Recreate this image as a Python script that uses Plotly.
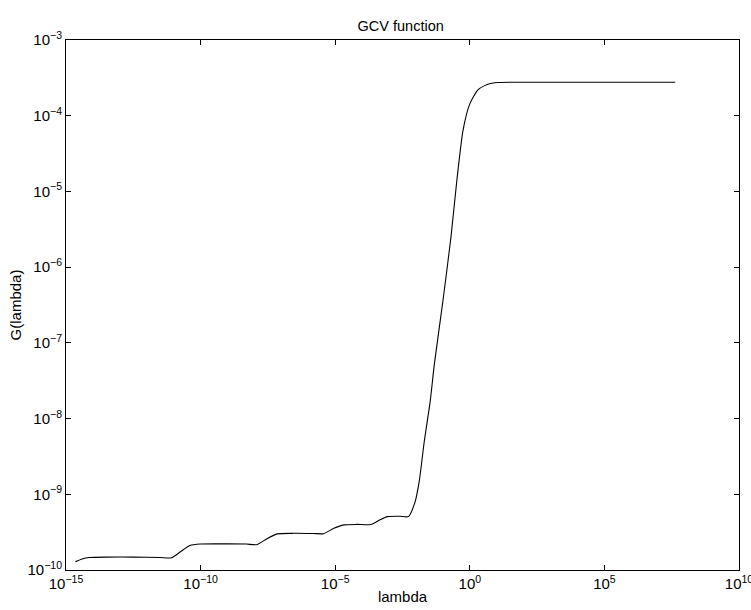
import plotly.graph_objects as go

# lambda values
lam = [2.24e-15, 3.98e-15, 7.41e-15, 3.16e-14, 3.16e-13, 3.16e-12, 8.32e-12,
       1.78e-11, 3.98e-11, 1.0e-10, 1.0e-9, 5.01e-9, 1.23e-8, 2.82e-8, 6.92e-8,
       2.51e-7, 1.58e-6, 3.72e-6, 8.91e-6, 2.09e-5, 6.31e-5, 2.09e-4, 4.47e-4,
       8.71e-4, 2.51e-3, 5.25e-3, 9.33e-3, 1.32e-2, 2.04e-2, 3.39e-2, 4.79e-2,
       0.1, 0.2, 0.327, 0.55, 0.966, 2.0, 4.68, 11.0, 100.0, 4.27e7]
# G(lambda) values
G = [1.29e-10, 1.40e-10, 1.46e-10, 1.48e-10, 1.48e-10, 1.46e-10, 1.45e-10,
     1.74e-10, 2.10e-10, 2.20e-10, 2.21e-10, 2.20e-10, 2.16e-10, 2.57e-10, 3.00e-10,
     3.05e-10, 3.03e-10, 3.02e-10, 3.55e-10, 3.94e-10, 4.00e-10, 3.98e-10, 4.57e-10,
     5.07e-10, 5.13e-10, 5.07e-10, 8.0e-10, 1.48e-9, 5.01e-9, 1.70e-8, 5.13e-8,
     3.55e-7, 2.51e-6, 1.35e-5, 6.17e-5, 1.39e-4, 2.20e-4, 2.61e-4, 2.75e-4, 2.77e-4, 2.77e-4]

xtick_vals = [1e-15, 1e-10, 1e-5, 1e0, 1e5, 1e10]
xtick_text = ["10<sup>−15</sup>", "10<sup>−10</sup>", "10<sup>−5</sup>", "10<sup>0</sup>",
              "10<sup>5</sup>", "10<sup>10</sup>"]
ytick_vals = [1e-10, 1e-9, 1e-8, 1e-7, 1e-6, 1e-5, 1e-4, 1e-3]
ytick_text = ["10<sup>−10</sup>", "10<sup>−9</sup>", "10<sup>−8</sup>", "10<sup>−7</sup>",
              "10<sup>−6</sup>", "10<sup>−5</sup>", "10<sup>−4</sup>", "10<sup>−3</sup>"]

fig = go.Figure()
fig.add_trace(go.Scatter(x=lam, y=G, mode="lines",
                         line=dict(color="black", width=1.1, shape="spline", smoothing=0.6),
                         showlegend=False, hoverinfo="skip"))

fam = "Liberation Sans, Arial, Helvetica, sans-serif"
font = dict(family=fam, size=15, color="black")
axis_common = dict(showgrid=False, zeroline=False, showline=True, linecolor="black",
                   linewidth=1, mirror="ticks", ticks="inside", ticklen=5,
                   tickcolor="black", tickwidth=1, tickfont=font, automargin=False,
                   ticklabeloverflow="allow")

fig.update_layout(
    width=751, height=610,
    margin=dict(l=66, r=12, t=40, b=40),
    paper_bgcolor="white", plot_bgcolor="white",
    font=font,
    title=dict(text="GCV function", x=0.5335, xanchor="center", y=0.958, yanchor="middle",
               font=dict(family=fam, size=14.5, color="black")),
    xaxis=dict(type="log", range=[-15, 10], tickvals=xtick_vals, ticktext=xtick_text,
               title=dict(text="lambda", standoff=0, font=font), **axis_common),
    yaxis=dict(type="log", range=[-10, -3], tickvals=ytick_vals, ticktext=ytick_text,
               title=dict(text="G(lambda)", standoff=2, font=font), **axis_common),
)

fig.write_html("out.html")
